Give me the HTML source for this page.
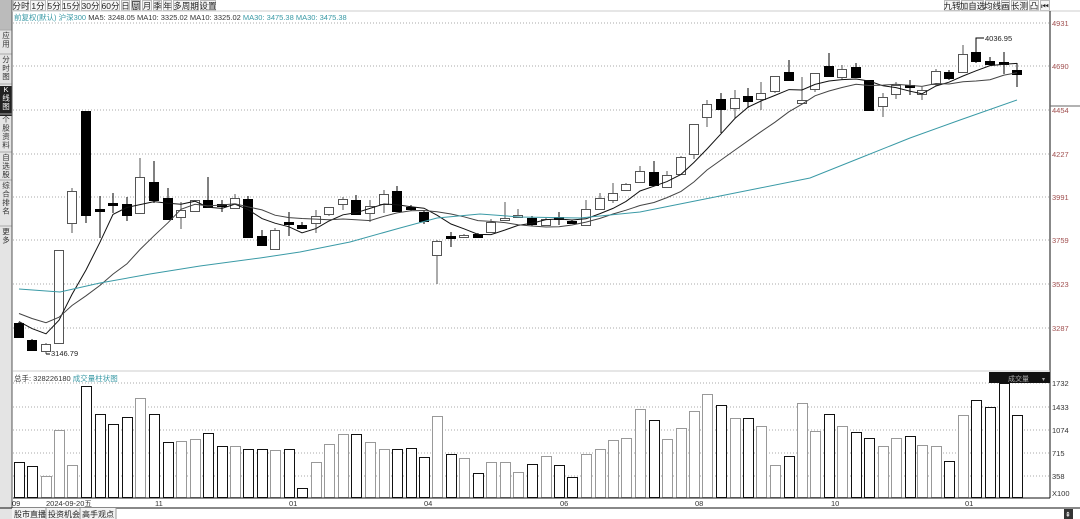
<!DOCTYPE html>
<html><head><meta charset="utf-8">
<style>
body{margin:0;background:#fff;width:1080px;height:519px;overflow:hidden;font-family:"Liberation Sans","Noto Sans CJK SC",sans-serif;}
svg{display:block}
text{font-family:"Liberation Sans","Noto Sans CJK SC",sans-serif;}
</style></head><body>
<svg id="s" width="1080" height="519" xmlns="http://www.w3.org/2000/svg">
<rect width="1080" height="519" fill="#fff"/>
<!-- left sidebar -->
<rect x="0" y="0" width="12" height="519" fill="#e4e4e4"/>
<rect x="0" y="0" width="12" height="30" fill="#bbb"/>
<rect x="0" y="86" width="12" height="30" fill="#222"/>
<g id="side" font-size="7.5" fill="#333"></g>
<line x1="12" y1="0" x2="12" y2="508" stroke="#555"/>
<!-- top toolbar -->
<g id="tb" font-size="8.5" fill="#222"></g>
<line x1="12" y1="11" x2="1080" y2="11" stroke="#ccc"/>
<text x="14" y="20" font-size="7.5" fill="#3a9aa6">前复权(默认)  沪深300 <tspan fill="#333">MA5: 3248.05   MA10: 3325.02   MA10: 3325.02</tspan>  <tspan fill="#3a9aa6">MA30: 3475.38   MA30: 3475.38</tspan></text>
<!-- grids -->
<g stroke="#aaa" stroke-dasharray="1,2">
<line x1="13" y1="23" x2="1050" y2="23"/><line x1="13" y1="66" x2="1050" y2="66"/><line x1="13" y1="110" x2="1050" y2="110"/><line x1="13" y1="154" x2="1050" y2="154"/><line x1="13" y1="197" x2="1050" y2="197"/><line x1="13" y1="240" x2="1050" y2="240"/><line x1="13" y1="284" x2="1050" y2="284"/><line x1="13" y1="328" x2="1050" y2="328"/>
<line x1="13" y1="383" x2="1050" y2="383"/><line x1="13" y1="407" x2="1050" y2="407"/><line x1="13" y1="430" x2="1050" y2="430"/><line x1="13" y1="453" x2="1050" y2="453"/><line x1="13" y1="476" x2="1050" y2="476"/>
</g>
<line x1="1050" y1="11" x2="1050" y2="498" stroke="#111"/>
<line x1="1050" y1="106" x2="1080" y2="106" stroke="#666"/>
<g font-size="7.5" fill="#a05050">
<text x="1052" y="26">4931</text><text x="1052" y="69">4690</text><text x="1052" y="113">4454</text><text x="1052" y="157">4227</text><text x="1052" y="200">3991</text><text x="1052" y="243">3759</text><text x="1052" y="287">3523</text><text x="1052" y="331">3287</text>
</g>
<line x1="13" y1="371" x2="1050" y2="371" stroke="#ccc"/>
<text x="14" y="381" font-size="7.5" fill="#333">总手: 328226180  <tspan fill="#3a9aa6">成交量柱状图</tspan></text>
<rect x="989" y="372" width="61" height="11" fill="#111"/><text x="1008" y="381" font-size="7" fill="#aaa">成交量</text><text x="1042" y="381" font-size="6" fill="#aaa">▾</text>
<g font-size="7.5" fill="#333">
<text x="1052" y="386">1732</text><text x="1052" y="410">1433</text><text x="1052" y="433">1074</text><text x="1052" y="456">715</text><text x="1052" y="479">358</text><text x="1052" y="496">X100</text>
</g>
<g id="cand"></g>
<line x1="13" y1="498" x2="1050" y2="498" stroke="#111"/>
<g font-size="7.5" fill="#333">
<text x="12" y="506">09</text><text x="46" y="506">2024-09-20五</text><text x="155" y="506">11</text><text x="289" y="506">01</text><text x="424" y="506">04</text><text x="560" y="506">06</text><text x="695" y="506">08</text><text x="831" y="506">10</text><text x="965" y="506">01</text>
</g>
<line x1="0" y1="508" x2="1080" y2="508" stroke="#111"/>
<g font-size="8" fill="#222">
<rect x="12" y="508" width="104" height="11" fill="#f2f2f2"/>
<text x="14" y="517">股市直播</text><text x="48" y="517">投资机会</text><text x="82" y="517">高手观点</text>
<line x1="46" y1="508" x2="46" y2="519" stroke="#999"/><line x1="80" y1="508" x2="80" y2="519" stroke="#999"/><line x1="116" y1="508" x2="116" y2="519" stroke="#999"/>
<rect x="1064" y="509" width="9" height="10" fill="#333"/><text x="1065" y="517" fill="#fff" font-size="7">⇞</text>
</g>
</svg>
<script>
// toolbar
var T=[["分时",13,29],["1分",30,46],["5分",47,61],["15分",62,80],["30分",81,100],["60分",101,120],["日",121,130],["周",131,141,1],["月",142,152],["季",153,162],["年",163,172],["多周期",173,199],["设置",200,216],
["九转",944,960],["加自选",961,984],["均线",985,1000],["画",1001,1010],["长测",1011,1028],["凸",1029,1039],["⏮",1040,1050]];
var s='';T.forEach(function(t){s+='<rect x="'+t[1]+'.5" y="0.5" width="'+(t[2]-t[1]-1)+'" height="10" fill="'+(t[3]?'#555':'#f6f6f6')+'" stroke="#bbb"/>';
s+='<text x="'+((t[1]+t[2])/2)+'" y="9" text-anchor="middle" fill="'+(t[3]?'#fff':'#222')+'">'+t[0]+'</text>';});
document.getElementById('tb').innerHTML=s;
// sidebar
var S=[["应用",38],["分时图",62],["K线图",92,1],["个股资料",122],["自选股",160],["综合排名",188],["更多",234]];
s='';S.forEach(function(t){var ch=Array.from(t[0]);ch.forEach(function(c,i){s+='<text x="6" y="'+(t[1]+i*8.5)+'" text-anchor="middle" font-size="7.5" fill="'+(t[2]?'#fff':'#333')+'">'+c+'</text>';});
s+='<line x1="0" y1="'+(t[1]-8)+'" x2="12" y2="'+(t[1]-8)+'" stroke="#aaa"/>';});
document.getElementById('side').innerHTML=s;
// x, filled, bodyTop, bodyBot, high, low, volTop
var D=[
[19,1,323,337,322,338,462],[32,1,340,350,339,351,466],[46,0,344,351,343,354,476],[59,0,250,343,250,343,430],[72,0,191,223,188,233,465],
[86,1,111,215,111,223,386],[100,1,209,211,196,238,414],[113,1,203,205,193,213,424],[127,1,204,215,197,221,417],[140,0,177,213,158,213,398],
[154,1,182,200,161,203,414],[168,1,198,219,188,219,442],[181,0,210,217,202,229,441],[195,0,200,211,200,211,439],[208,1,200,207,177,207,433],
[222,1,204,206,200,212,446],[235,0,198,208,194,208,446],[248,1,199,237,196,237,449],[262,1,236,245,230,245,449],[275,0,230,249,228,249,450],
[289,1,222,224,212,236,449],[302,1,225,228,222,229,488],[316,0,216,223,210,233,462],[329,0,207,214,207,216,444],[343,0,199,204,197,210,434],
[356,1,200,214,195,214,434],[370,0,206,213,200,222,442],[384,0,194,204,190,213,449],[397,1,191,211,186,211,449],[411,1,207,209,205,211,448],
[424,1,212,221,210,224,457],[437,0,241,255,240,284,416],[451,1,236,238,232,247,454],[464,0,235,237,234,238,458],[478,1,234,237,233,237,473],
[491,0,222,232,219,232,462],[505,0,218,220,202,220,462],[518,0,215,217,209,217,472],[532,1,218,224,216,226,464],[546,0,219,225,218,225,456],
[559,1,217,219,212,225,465],[572,1,221,223,220,224,477],[586,0,209,225,200,225,454],[600,0,198,209,193,209,449],[613,0,193,200,183,203,440],
[626,0,184,190,183,191,438],[640,0,171,182,166,183,409],[654,1,172,185,161,185,420],[667,0,175,187,171,187,439],[681,0,157,174,156,174,428],
[694,0,124,154,124,159,411],[707,0,104,117,100,127,394],[721,1,99,109,93,133,405],[735,0,98,108,90,118,418],[748,1,96,101,88,108,418],
[761,0,93,99,82,110,426],[775,0,76,91,76,93,465],[789,1,72,80,60,80,456],[802,0,100,103,77,103,403],[815,0,73,89,73,92,431],
[829,1,66,76,53,76,414],[842,0,69,77,65,80,426],[856,1,67,77,63,77,432],[869,1,80,110,80,110,438],[883,0,97,106,93,117,446],
[896,0,85,94,82,99,438],[910,1,85,87,80,95,436],[922,0,90,94,87,100,445],[936,0,71,84,69,86,446],[949,1,72,78,70,80,461],
[963,0,54,72,45,72,415],[976,1,52,61,47,63,400],[990,1,61,64,57,66,407],[1004,1,62,64,52,74,383],[1017,1,70,74,63,87,415]];
var g=document.getElementById('cand'),h='';
var closes=[300,302,305,308,312,315,318,318,320];
D.forEach(function(d){
 var x=d[0],w=10,c=d[1]?'#000':'#555',fill=d[1]?'#000':'#fff';
 h+='<line x1="'+x+'" y1="'+d[4]+'" x2="'+x+'" y2="'+d[5]+'" stroke="'+c+'"/>';
 var bh=Math.max(1.5,d[3]-d[2]);
 h+='<rect x="'+(x-w/2+0.5)+'" y="'+(d[2]+0.5)+'" width="'+(w-1)+'" height="'+bh+'" fill="'+fill+'" stroke="'+c+'"/>';
 var vc=d[1]?'#111':'#999';
 h+='<rect x="'+(x-5+0.5)+'" y="'+(d[6]+0.5)+'" width="10" height="'+(497-d[6])+'" fill="#fff" stroke="'+vc+'"/>';
 closes.push(d[1]?d[3]:d[2]);
});
function ma(n,col){var p=[];for(var i=0;i<D.length;i++){var k=i+9,s=0;for(var j=0;j<n;j++)s+=closes[k-j];p.push(D[i][0]+','+(s/n).toFixed(1));}
 return '<polyline points="'+p.join(' ')+'" fill="none" stroke="'+col+'" stroke-width="1"/>';}
h+=ma(5,'#111')+ma(10,'#444');
h+='<polyline points="19,289 60,292 100,283 150,274 200,266 260,258 300,252 350,242 400,228 437,218 480,214 520,217 580,218 640,212 700,200 760,188 810,178 860,158 910,138 960,120 1017,100" fill="none" stroke="#3a9aa6"/>';
h+='<polyline points="46,354 50,354" stroke="#000"/><text x="51" y="356" font-size="7.5" fill="#222">3146.79</text>';
h+='<polyline points="976,47 976,38 984,38" fill="none" stroke="#000"/><text x="985" y="41" font-size="7.5" fill="#222">4036.95</text>';
g.innerHTML=h;
</script>
</body></html>
